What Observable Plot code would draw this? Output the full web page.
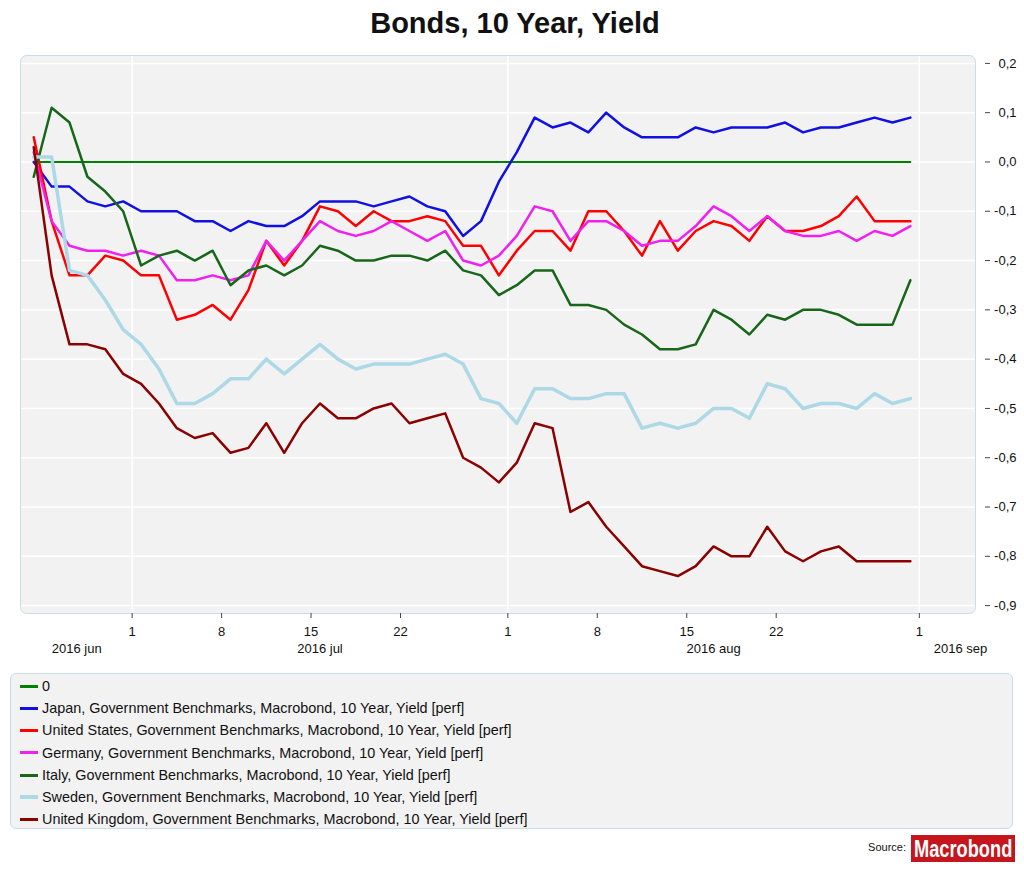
<!DOCTYPE html>
<html>
<head>
<meta charset="utf-8">
<script src="https://cdn.jsdelivr.net/npm/d3@7"></script>
<script src="https://cdn.jsdelivr.net/npm/@observablehq/plot@0.6"></script>
<style>
  body { margin:0; width:1024px; height:869px; position:relative; background:#fff;
         font-family:"Liberation Sans", Arial, sans-serif; color:#111; overflow:hidden; }
  #title { position:absolute; left:0; top:6px; width:1030px; text-align:center;
           font-weight:bold; font-size:29px; line-height:34px; }
  #chart { position:absolute; left:0; top:50px; }
  #legend { position:absolute; left:10px; top:673px; width:1003px; height:156px;
            background:#f2f2f2; border:1px solid #c9dde6; border-radius:6px; box-sizing:border-box; }
  .row { position:absolute; left:9px; height:22px; line-height:22px; font-size:14.4px; white-space:nowrap; }
  .sw { display:inline-block; width:18px; height:3px; vertical-align:middle; margin-right:4px; position:relative; top:-1px; }
  #source { position:absolute; left:820px; top:841px; width:86px; text-align:right; font-size:11px; }
  #logo { position:absolute; left:911px; top:835px; width:104px; height:27px; background:#c4161c; overflow:hidden; }
  #logo span { position:absolute; left:3px; top:0; display:inline-block; color:#fff; font-weight:bold; font-size:24px;
          line-height:27px; white-space:nowrap; transform-origin:0 50%; transform:scaleX(0.76);
          font-family:"Liberation Sans", sans-serif; }
</style>
</head>
<body>
<div id="title">Bonds, 10 Year, Yield</div>
<div id="chart"></div>
<div id="legend"></div>
<div id="source">Source:</div>
<div id="logo"><span>Macrobond</span></div>
<script>
// Business days counted from 23 Jun 2016 (day 0); each observation plotted mid-day.
const seriesNames = [
  "0",
  "Japan, Government Benchmarks, Macrobond, 10 Year, Yield [perf]",
  "United States, Government Benchmarks, Macrobond, 10 Year, Yield [perf]",
  "Germany, Government Benchmarks, Macrobond, 10 Year, Yield [perf]",
  "Italy, Government Benchmarks, Macrobond, 10 Year, Yield [perf]",
  "Sweden, Government Benchmarks, Macrobond, 10 Year, Yield [perf]",
  "United Kingdom, Government Benchmarks, Macrobond, 10 Year, Yield [perf]"
];
const seriesColors = ["#008000", "#1010e0", "#ff0000", "#f020f0", "#17661a", "#add8e6", "#8b0000"];
const seriesWidths = [2, 2.5, 2.5, 2.5, 2.5, 3.5, 2.5];

const zeroLine = [0,0,0,0,0,0,0,0,0,0,0,0,0,0,0,0,0,0,0,0,0,0,0,0,0,0,0,0,0,0,0,0,0,0,0,0,0,0,0,0,0,0,0,0,0,0,0,0,0,0];
const japan = [0,-0.05,-0.05,-0.08,-0.09,-0.08,-0.10,-0.10,-0.10,-0.12,-0.12,-0.14,-0.12,
  -0.13,-0.13,-0.11,-0.08,-0.08,-0.08,-0.09,-0.08,-0.07,-0.09,-0.10,-0.15,-0.12,
  -0.04,0.02,0.09,0.07,0.08,0.06,0.10,0.07,0.05,0.05,0.05,0.07,0.06,
  0.07,0.07,0.07,0.08,0.06,0.07,0.07,0.08,0.09,0.08,0.09];
const unitedStates = [0.05,-0.12,-0.23,-0.23,-0.19,-0.20,-0.23,-0.23,-0.32,-0.31,-0.29,-0.32,-0.26,
  -0.16,-0.21,-0.16,-0.09,-0.10,-0.13,-0.10,-0.12,-0.12,-0.11,-0.12,-0.17,-0.17,
  -0.23,-0.18,-0.14,-0.14,-0.18,-0.10,-0.10,-0.14,-0.19,-0.12,-0.18,-0.14,-0.12,
  -0.13,-0.16,-0.11,-0.14,-0.14,-0.13,-0.11,-0.07,-0.12,-0.12,-0.12];
const germany = [0.02,-0.12,-0.17,-0.18,-0.18,-0.19,-0.18,-0.19,-0.24,-0.24,-0.23,-0.24,-0.23,
  -0.16,-0.20,-0.16,-0.12,-0.14,-0.15,-0.14,-0.12,-0.14,-0.16,-0.14,-0.20,-0.21,
  -0.19,-0.15,-0.09,-0.10,-0.16,-0.12,-0.12,-0.14,-0.17,-0.16,-0.16,-0.13,-0.09,
  -0.11,-0.14,-0.11,-0.14,-0.15,-0.15,-0.14,-0.16,-0.14,-0.15,-0.13];
const italy = [-0.03,0.11,0.08,-0.03,-0.06,-0.10,-0.21,-0.19,-0.18,-0.20,-0.18,-0.25,-0.22,
  -0.21,-0.23,-0.21,-0.17,-0.18,-0.20,-0.20,-0.19,-0.19,-0.20,-0.18,-0.22,-0.23,
  -0.27,-0.25,-0.22,-0.22,-0.29,-0.29,-0.30,-0.33,-0.35,-0.38,-0.38,-0.37,-0.30,
  -0.32,-0.35,-0.31,-0.32,-0.30,-0.30,-0.31,-0.33,-0.33,-0.33,-0.24];
const sweden = [0.01,0.01,-0.22,-0.23,-0.28,-0.34,-0.37,-0.42,-0.49,-0.49,-0.47,-0.44,-0.44,
  -0.40,-0.43,-0.40,-0.37,-0.40,-0.42,-0.41,-0.41,-0.41,-0.40,-0.39,-0.41,-0.48,
  -0.49,-0.53,-0.46,-0.46,-0.48,-0.48,-0.47,-0.47,-0.54,-0.53,-0.54,-0.53,-0.50,
  -0.50,-0.52,-0.45,-0.46,-0.50,-0.49,-0.49,-0.50,-0.47,-0.49,-0.48];
const unitedKingdom = [0.03,-0.23,-0.37,-0.37,-0.38,-0.43,-0.45,-0.49,-0.54,-0.56,-0.55,-0.59,-0.58,
  -0.53,-0.59,-0.53,-0.49,-0.52,-0.52,-0.50,-0.49,-0.53,-0.52,-0.51,-0.60,-0.62,
  -0.65,-0.61,-0.53,-0.54,-0.71,-0.69,-0.74,-0.78,-0.82,-0.83,-0.84,-0.82,-0.78,
  -0.80,-0.80,-0.74,-0.79,-0.81,-0.79,-0.78,-0.81,-0.81,-0.81,-0.81];
const seriesValues = [zeroLine, japan, unitedStates, germany, italy, sweden, unitedKingdom];

// Axis: tick days (business days since 23 Jun) and their labels
const tickDays = [6, 11, 16, 21, 27, 32, 37, 42, 50];
const tickLabels = ["1", "8", "15", "22", "1", "8", "15", "22", "1"];
const monthStartDays = [6, 27, 50];
const monthLabelDays = [2.9, 16.5, 38.5, 52.3];
const monthLabels = ["2016 jun", "2016 jul", "2016 aug", "2016 sep"];
const yTicks = [0.2, 0.1, 0, -0.1, -0.2, -0.3, -0.4, -0.5, -0.6, -0.7, -0.8, -0.9];

const rows = [];
seriesValues.forEach((vals, s) => vals.forEach((v, i) => rows.push({s, day: i + 0.5, value: v})));
const tickLabelMap = new Map(tickDays.map((d, i) => [d, tickLabels[i]]));
const months = monthLabels.map((label, i) => ({label, day: monthLabelDays[i]}));
const fmt = d => {
  const s = d.toFixed(1).replace(".", ",");
  return s === "-0,0" ? "0,0" : s;
};

const chart = Plot.plot({
  width: 1024,
  height: 615,
  marginLeft: 20,
  marginRight: 49,
  marginTop: 5,
  marginBottom: 52,
  style: {fontFamily: "Liberation Sans, Arial, sans-serif", fontSize: "13px", background: "transparent", color: "#111"},
  x: {domain: [-0.24, 53.14]},
  y: {domain: [-0.916, 0.216]},
  marks: [
    Plot.frame({fill: "#f2f2f2", rx: 6}),
    Plot.ruleY(yTicks, {stroke: "#fff", strokeWidth: 1.5}),
    Plot.ruleX(monthStartDays, {stroke: "#fff", strokeWidth: 1.5}),
    ...seriesValues.map((_, s) => Plot.line(rows.filter(r => r.s === s), {
      x: "day", y: "value", stroke: seriesColors[s], strokeWidth: seriesWidths[s],
      strokeLinejoin: "round"
    })),
    Plot.frame({stroke: "#c9dde6", rx: 6}),
    Plot.axisY(yTicks, {anchor: "right", label: null, tickSize: 5, dx: 9, tickFormat: () => "", stroke: "#444"}),
    Plot.axisY(yTicks, {anchor: "right", label: null, tickSize: 0, tickPadding: 0, dx: 41, textAnchor: "end",
      tickFormat: fmt, fontSize: 13, fill: "#111"}),
    Plot.axisX(tickDays, {anchor: "bottom", label: null, tickSize: 5, tickPadding: 8, tickFormat: d => tickLabelMap.get(d),
      fontSize: 13, fill: "#111", stroke: "#444"}),
    Plot.text(months, {x: "day", text: "label", frameAnchor: "bottom", dy: 39, fontSize: 13, fill: "#111"})
  ]
});
document.getElementById("chart").appendChild(chart);

const legend = document.getElementById("legend");
seriesNames.forEach((name, i) => {
  const row = document.createElement("div");
  row.className = "row";
  row.style.top = (1 + i * 22.2) + "px";
  const sw = document.createElement("span");
  sw.className = "sw";
  sw.style.background = seriesColors[i];
  sw.style.height = (i === 5 ? 4 : 3) + "px";
  row.appendChild(sw);
  row.appendChild(document.createTextNode(name));
  legend.appendChild(row);
});
</script>
</body>
</html>
